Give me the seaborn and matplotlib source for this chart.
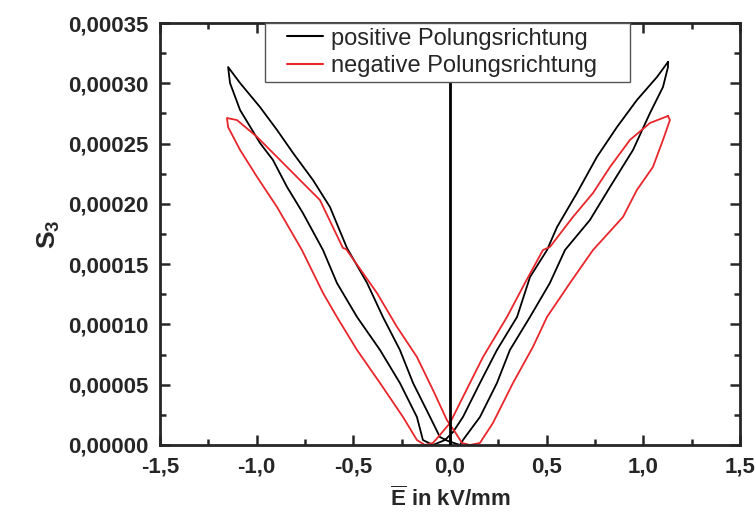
import matplotlib
matplotlib.use("Agg")
import matplotlib.pyplot as plt
import numpy as np
import pandas as pd
import seaborn as sns
from matplotlib.legend_handler import HandlerLine2D
from matplotlib.lines import Line2D
from matplotlib.ticker import FuncFormatter, MultipleLocator

# E-field (kV/mm) and strain S3 (in 1e-4) read along each closed butterfly loop
pos_E = [1.128, 1.071, 0.967, 0.864, 0.760, 0.657, 0.554, 0.502, 0.414, 0.347,
         0.243, 0.155, 0.067, 0.016, -0.026, -0.088, -0.140, -0.171, -0.259, -0.362,
         -0.481, -0.585, -0.657, -0.761, -0.843, -0.916, -0.983, -1.086, -1.138, -1.148,
         -1.086, -0.983, -0.895, -0.812, -0.709, -0.621, -0.533, -0.429, -0.347, -0.259,
         -0.191, -0.103, -0.052, -0.010, 0.052, 0.067, 0.155, 0.243, 0.310, 0.414,
         0.517, 0.595, 0.724, 0.828, 0.947, 1.035, 1.102, 1.128, 1.128]
pos_S = [3.177, 3.052, 2.861, 2.637, 2.389, 2.090, 1.808, 1.617, 1.393, 1.062,
         0.788, 0.514, 0.232, 0.108, 0.041, 0.000, 0.041, 0.232, 0.514, 0.788,
         1.062, 1.344, 1.617, 1.924, 2.140, 2.364, 2.505, 2.778, 3.002, 3.135,
         3.002, 2.803, 2.613, 2.422, 2.198, 1.974, 1.634, 1.344, 1.062, 0.788,
         0.514, 0.232, 0.066, 0.033, 0.000, 0.041, 0.232, 0.514, 0.788, 1.062,
         1.344, 1.617, 1.866, 2.140, 2.447, 2.754, 2.969, 3.135, 3.177]

neg_E = [1.128, 1.035, 0.931, 0.828, 0.740, 0.636, 0.517, 0.481, 0.388, 0.295,
         0.171, 0.067, 0.000, -0.052, -0.088, -0.129, -0.171, -0.243, -0.362, -0.481,
         -0.585, -0.657, -0.766, -0.895, -0.998, -1.086, -1.148, -1.154, -1.102, -0.998,
         -0.895, -0.792, -0.673, -0.554, -0.538, -0.378, -0.274, -0.171, -0.088, -0.016,
         0.026, 0.062, 0.103, 0.155, 0.222, 0.326, 0.429, 0.502, 0.621, 0.740,
         0.895, 0.967, 1.050, 1.102, 1.138, 1.128]
neg_S = [2.729, 2.671, 2.530, 2.306, 2.090, 1.891, 1.642, 1.617, 1.344, 1.062,
         0.730, 0.398, 0.182, 0.083, 0.017, 0.000, 0.041, 0.232, 0.514, 0.788,
         1.062, 1.261, 1.617, 1.974, 2.223, 2.447, 2.637, 2.712, 2.695, 2.555,
         2.389, 2.223, 2.032, 1.634, 1.626, 1.261, 0.979, 0.730, 0.456, 0.207,
         0.108, 0.017, 0.000, 0.017, 0.182, 0.514, 0.813, 1.062, 1.344, 1.617,
         1.891, 2.115, 2.306, 2.530, 2.695, 2.729]

zero_E = [0.0, 0.0]
zero_S = [0.0, 3.5]

labels = ["positive Polungsrichtung", "negative Polungsrichtung"]

sns.set_style("ticks")
plt.rcParams["font.family"] = ["Liberation Sans", "DejaVu Sans"]
plt.rcParams["mathtext.fontset"] = "custom"
plt.rcParams["mathtext.rm"] = "Liberation Sans"
plt.rcParams["mathtext.bf"] = "Liberation Sans:bold"

df = pd.concat([
    pd.DataFrame({"E": pos_E, "S": np.array(pos_S) * 1e-4, "loop": labels[0]}),
    pd.DataFrame({"E": neg_E, "S": np.array(neg_S) * 1e-4, "loop": labels[1]}),
])

fig = plt.figure(figsize=(7.55, 5.16), dpi=100)
ax = fig.add_axes([0.212, 0.1376, 0.768, 0.8178])

sns.lineplot(data=df, x="E", y="S", hue="loop", units="loop", estimator=None,
             sort=False, palette={labels[0]: "black", labels[1]: "#e8262b"},
             linewidth=1.3, ax=ax)
ax.plot(zero_E, np.array(zero_S) * 1e-4, color="black", linewidth=2, zorder=3)

ax.set_xlim(-1.5, 1.5)
ax.set_ylim(0, 0.00035)
ax.xaxis.set_major_locator(MultipleLocator(0.5))
ax.xaxis.set_minor_locator(MultipleLocator(0.25))
ax.yaxis.set_major_locator(MultipleLocator(0.00005))
ax.yaxis.set_minor_locator(MultipleLocator(0.000025))
ax.xaxis.set_major_formatter(FuncFormatter(lambda v, p: f"{round(v, 2) + 0:.1f}".replace(".", ",")))
ax.yaxis.set_major_formatter(FuncFormatter(lambda v, p: f"{round(v, 7) + 0:.5f}".replace(".", ",")))

ax.tick_params(which="both", direction="in", top=True, right=True, width=1.8)
ax.tick_params(which="major", length=7, labelsize=16, pad=8)
ax.tick_params(which="minor", length=4)
for lab in ax.get_xticklabels() + ax.get_yticklabels():
    lab.set_fontweight("bold")
for sp in ax.spines.values():
    sp.set_linewidth(2)

ax.set_xlabel(r"$\overline{\mathbf{E}}$ in kV/mm", fontsize=16, fontweight="bold", labelpad=7)
ax.set_ylabel(r"$\mathbf{S_3}$", fontsize=19, fontweight="bold", labelpad=5)

leg = ax.legend(loc="upper left", bbox_to_anchor=(0.181, 0.0, 0.629, 1.0),
                mode="expand", borderaxespad=0,
                fontsize=17, frameon=True, fancybox=False, framealpha=1,
                edgecolor="#555555", handlelength=2.25, handletextpad=0.35,
                borderpad=0.2, labelspacing=0.24,
                handler_map={Line2D: HandlerLine2D(xpad=0.75)})
leg.get_frame().set_linewidth(1.0)
for line in leg.get_lines():
    line.set_linewidth(1.5)

fig.savefig("out.png", dpi=100)
